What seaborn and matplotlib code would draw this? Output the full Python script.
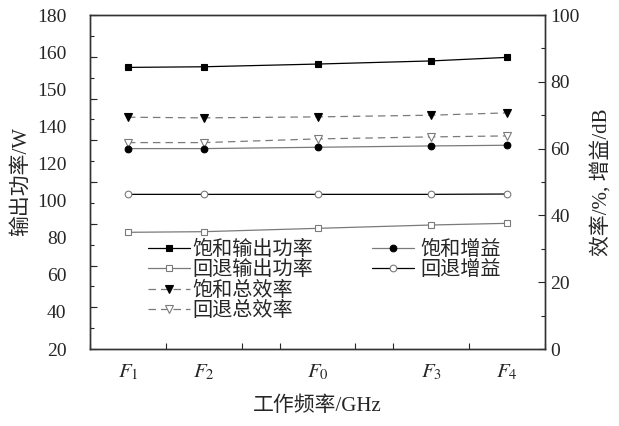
import matplotlib
matplotlib.use('Agg')
import matplotlib.pyplot as plt
import seaborn as sns
from matplotlib.ticker import FixedLocator, MultipleLocator

# x positions of the operating frequencies on a 0..12 axis
freq_pos = [1, 3, 6, 9, 11]
freq_labels = [r'$F_1$', r'$F_2$', r'$F_0$', r'$F_3$', r'$F_4$']

# left axis: output power / W
sat_power = [154.9, 155.2, 156.5, 158.0, 159.7]
bo_power = [75.9, 76.2, 77.8, 79.4, 80.2]
# right axis: efficiency / %, gain / dB
sat_eff = [69.4, 69.2, 69.5, 70.0, 70.7]
bo_eff = [61.8, 61.8, 62.9, 63.5, 63.8]
sat_gain = [60.0, 60.0, 60.4, 60.8, 61.0]
bo_gain = [46.3, 46.3, 46.3, 46.3, 46.4]

left_tick_labels = ['20', '40', '60', '80', '100', '120', '140', '150', '160', '180']

sns.set_theme(style='ticks')
plt.rcParams['font.family'] = ['Liberation Serif', 'Noto Sans CJK SC']
plt.rcParams['mathtext.fontset'] = 'stix'
plt.rcParams['axes.unicode_minus'] = False

fig = plt.figure(figsize=(6.19, 4.26), dpi=100)
ax = fig.add_axes([90/619, 77/426, 455/619, 334/426])
ax2 = ax.twinx()

gray = '#7a7a7a'
lw = 0.9

def draw(axis, y, label, color, marker, mfc, mec, ms, dashed=False):
    sns.lineplot(x=freq_pos, y=y, ax=axis, color=color, marker=marker,
                 markerfacecolor=mfc, markeredgecolor=mec, markersize=ms,
                 markeredgewidth=0.8, linewidth=lw, legend=False)
    line = axis.lines[-1]
    line.set_label(label)
    if dashed:
        line.set_dashes((6, 4))
    return line

h1 = draw(ax, sat_power, '饱和输出功率', 'black', 's', 'black', 'black', 4.5)
h2 = draw(ax, bo_power, '回退输出功率', gray, 's', 'white', gray, 4.5)
h3 = draw(ax2, sat_eff, '饱和总效率', gray, 'v', 'black', 'black', 5.5, dashed=True)
h4 = draw(ax2, bo_eff, '回退总效率', gray, 'v', 'white', gray, 5.5, dashed=True)
h5 = draw(ax2, sat_gain, '饱和增益', gray, 'o', 'black', 'black', 4.8)
h6 = draw(ax2, bo_gain, '回退增益', 'black', 'o', 'white', gray, 4.8)

# x axis
ax.set_xlim(0, 12)
ax.set_xticks(freq_pos, freq_labels)
ax.xaxis.set_minor_locator(MultipleLocator(1))
ax.tick_params(axis='x', which='major', length=0, pad=10, labelsize=15)
ax.tick_params(axis='x', which='minor', direction='in', length=4, width=0.8)
ax.set_xlabel('工作频率/GHz', fontsize=15, labelpad=10)

# left axis: labels spread evenly, tick marks every 20 (long) and 10 (short)
ax.set_ylim(20, 180)
step = 160 / 9
ax.yaxis.set_major_locator(FixedLocator([20 + i * step for i in range(10)]))
ax.set_yticklabels(left_tick_labels)
ax.yaxis.set_minor_locator(MultipleLocator(10))
ax.tick_params(axis='y', which='major', length=0, pad=17, labelsize=14)
ax.tick_params(axis='y', which='minor', direction='in', length=3, width=0.8)
ax.set_ylabel('输出功率/W', fontsize=15, labelpad=4)

marks = ax.secondary_yaxis('left')
marks.yaxis.set_major_locator(MultipleLocator(20))
marks.tick_params(axis='y', direction='in', length=5, width=0.8, labelleft=False)
marks.spines['left'].set_visible(False)

# right axis
ax2.set_ylim(0, 100)
ax2.yaxis.set_major_locator(MultipleLocator(20))
ax2.yaxis.set_minor_locator(MultipleLocator(10))
ax2.tick_params(axis='y', which='major', direction='in', length=5, width=0.8, pad=4, labelsize=14)
ax2.tick_params(axis='y', which='minor', direction='in', length=3, width=0.8)
ax2.set_ylabel('效率/%, 增益/dB', fontsize=15, labelpad=8)

for a in (ax, ax2):
    for s in a.spines.values():
        s.set_linewidth(1.0)
        s.set_color('#333333')

leg1 = ax2.legend(handles=[h1, h2, h3, h4], loc='upper left',
                  bbox_to_anchor=(0.127, 0.325), frameon=False, fontsize=14.5,
                  handlelength=2.1, handletextpad=0.1, labelspacing=0.07,
                  borderpad=0, borderaxespad=0)
ax2.add_artist(leg1)
ax2.legend(handles=[h5, h6], loc='upper left',
           bbox_to_anchor=(0.62, 0.325), frameon=False, fontsize=14.5,
           handlelength=2.1, handletextpad=0.3, labelspacing=0.07,
           borderpad=0, borderaxespad=0)

fig.savefig('out.png', dpi=100)
